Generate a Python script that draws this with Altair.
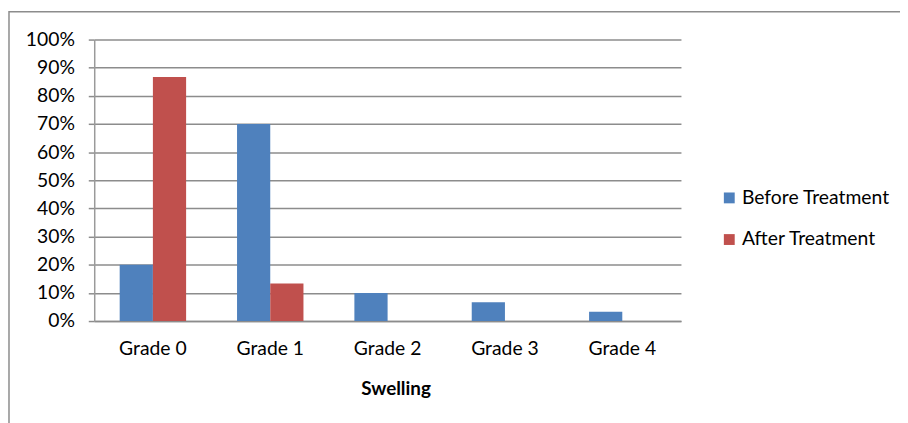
import altair as alt
import pandas as pd

grades = ["Grade 0", "Grade 1", "Grade 2", "Grade 3", "Grade 4"]
before = [0.20, 0.70, 0.10, 0.0667, 0.0333]
after = [0.8667, 0.1333, 0.0, 0.0, 0.0]
series = ["Before Treatment", "After Treatment"]
colors = ["#4F81BD", "#C0504D"]
y_ticks = [0, 0.1, 0.2, 0.3, 0.4, 0.5, 0.6, 0.7, 0.8, 0.9, 1.0]

rows = []
for g, b, a in zip(grades, before, after):
    rows.append({"grade": g, "series": series[0], "value": b})
    rows.append({"grade": g, "series": series[1], "value": a})
df = pd.DataFrame(rows)

FONT = "Lato"
FS = 19.5

bars = alt.Chart(df).mark_bar().encode(
    x=alt.X("grade:N", sort=grades,
            scale=alt.Scale(paddingInner=0.434, paddingOuter=0.217),
            axis=alt.Axis(title="Swelling", labelAngle=0, ticks=False,
                          domainColor="#8c8c8c", domainWidth=1.5,
                          labelPadding=19, titlePadding=22, titleX=304,
                          labelFont=FONT, labelFontSize=FS, labelColor="#000000",
                          titleFont=FONT, titleFontSize=FS - 0.5, titleFontWeight="bold",
                          titleColor="#000000")),
    xOffset=alt.XOffset("series:N", sort=series),
    y=alt.Y("value:Q", scale=alt.Scale(domain=[0, 1], nice=False),
            axis=alt.Axis(title=None, format=".0%", values=y_ticks,
                          tickSize=6, tickColor="#8c8c8c", tickWidth=1.5,
                          domainColor="#9a9a9a", domainWidth=1.5,
                          grid=True, gridColor="#8c8c8c", gridWidth=1.5,
                          labelPadding=14, labelFont=FONT, labelFontSize=FS,
                          labelColor="#000000")),
    color=alt.Color("series:N", sort=series,
                    scale=alt.Scale(domain=series, range=colors),
                    legend=alt.Legend(title=None, orient="none", legendX=631, legendY=150,
                                      symbolType="square", symbolSize=120,
                                      symbolStrokeWidth=0, labelFont=FONT,
                                      labelFontSize=FS, labelColor="#000000",
                                      rowPadding=21, labelOffset=3)),
)

frame = alt.Chart(pd.DataFrame({"f": [0]})).mark_rect(
    fill=None, stroke="#8c8c8c", strokeWidth=1.5
).encode(
    x=alt.value(-86), x2=alt.value(1000),
    y=alt.value(-28), y2=alt.value(600),
)

chart = alt.layer(frame, bars).properties(
    width=592, height=284,
    padding={"left": 87, "top": 30, "right": 221, "bottom": 101},
    autosize=alt.AutoSizeParams(type="none"),
).configure_view(stroke=None)

chart.save("out.html", embed_options={"renderer": "svg", "actions": False})
